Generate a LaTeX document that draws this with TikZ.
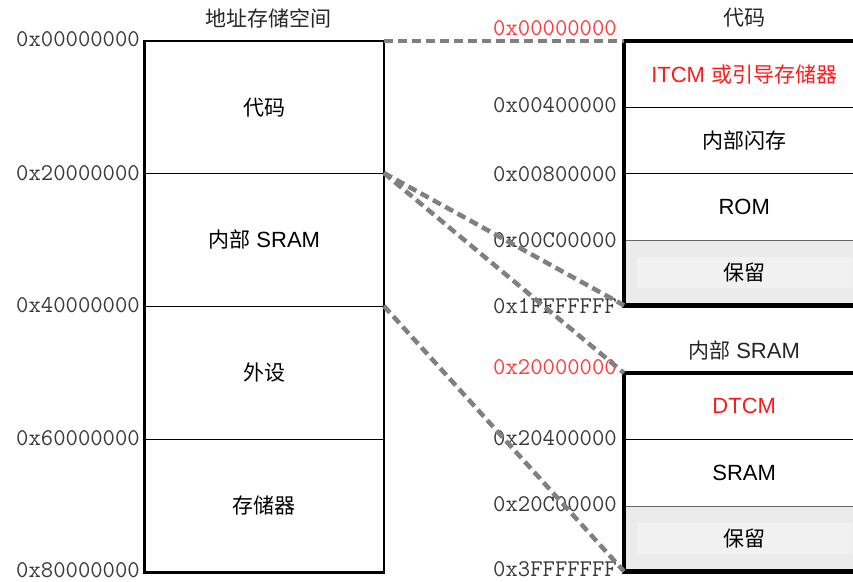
\documentclass[tikz,border=0pt]{standalone}
\usepackage{fontspec}
\setmainfont{Liberation Sans}
\newfontfamily\cjk{Noto Sans CJK SC}
\definecolor{addrgray}{HTML}{3A3A3A}
\definecolor{rsvfill}{HTML}{EBEBEB}
\definecolor{rsvinner}{HTML}{F1F1F1}
\definecolor{linkgray}{HTML}{808080}
\definecolor{hired}{HTML}{FF1A1A}
\definecolor{addrred}{HTML}{FF3B3B}
\begin{document}
\begin{tikzpicture}[x=1pt,y=-1pt,
  cellL/.style={anchor=north west, minimum width=239pt, inner sep=0pt, font=\fontsize{22}{22}\selectfont},
  cellR/.style={anchor=north west, minimum width=240pt, inner sep=0pt, font=\fontsize{22}{22}\selectfont},
  rsvcell/.style={cellR, fill=rsvfill},
  rsvlabel/.style={fill=rsvinner, minimum width=215pt, minimum height=31pt, inner sep=0pt, font=\fontsize{21}{21}\selectfont},
  addr/.style={anchor=east, inner sep=0pt, font=\fontsize{24}{24}\ttfamily, text=addrgray},
  addrhot/.style={addr, text=addrred},
  title/.style={inner sep=0pt, font=\fontsize{22}{22}\selectfont, text=black!85},
  sep/.style={line width=1.3pt, black},
  sepgray/.style={line width=1.3pt, black!60},
  frameL/.style={line width=2.5pt, black},
  frameR/.style={line width=4.5pt, black},
  link/.style={line width=4.5pt, linkgray, dash pattern=on 9pt off 5pt}
]
\useasboundingbox (0,0) rectangle (853,581);
\clip (0,0) rectangle (853,581);

% ---- address space overview ----
\node[title] (ttlL) at (268,18) {\cjk\fontsize{21}{21}\selectfont 地址存储空间};
\node[cellL, minimum height=132pt] (code)   at (144.5,41)  {\cjk\fontsize{21}{21}\selectfont 代码};
\node[cellL, minimum height=133pt] (isram)  at (144.5,173) {{\cjk\fontsize{21}{21}\selectfont 内部} SRAM};
\node[cellL, minimum height=133pt] (periph) at (144.5,306) {\cjk\fontsize{21}{21}\selectfont 外设};
\node[cellL, minimum height=133pt] (stor)   at (144.5,439) {\cjk\fontsize{21}{21}\selectfont 存储器};
\draw[sep] (code.south west) -- (code.south east);
\draw[sep] (isram.south west) -- (isram.south east);
\draw[sep] (periph.south west) -- (periph.south east);
\draw[frameL] (code.north west) rectangle (stor.south east);

\node[addr] (l0) at (140,39)  {0x00000000};
\node[addr] (l1) at (140,173) {0x20000000};
\node[addr] (l2) at (140,305) {0x40000000};
\node[addr] (l3) at (140,438) {0x60000000};
\node[addr] (l4) at (140,570) {0x80000000};

% ---- code region detail ----
\node[title] (ttlC) at (744,18) {\cjk\fontsize{21}{21}\selectfont 代码};
\node[cellR, minimum height=66pt] (itcm)  at (624,41)  {\color{hired}ITCM {\cjk\fontsize{21}{21}\selectfont 或引导存储器}};
\node[cellR, minimum height=66pt] (flash) at (624,107) {\cjk\fontsize{21}{21}\selectfont 内部闪存};
\node[cellR, minimum height=67pt] (rom)   at (624,173) {ROM};
\node[rsvcell, minimum height=65pt] (rsv1) at (624,240) {};
\node[rsvlabel] (rsv1t) at (rsv1.center) {\cjk 保留};
\draw[sep] (itcm.south west) -- (itcm.south east);
\draw[sep] (flash.south west) -- (flash.south east);
\draw[sepgray] (rom.south west) -- (rom.south east);
\draw[frameR] (itcm.north east) -- (itcm.north west) -- (rsv1.south west) -- (rsv1.south east);

\node[addrhot] (r0) at (617,28)  {0x00000000};
\node[addr]    (r1) at (617,105) {0x00400000};
\node[addr]    (r2) at (617,174) {0x00800000};
\node[addr]    (r3) at (617,240) {0x00C00000};
\node[addr]    (r4) at (617,306) {0x1FFFFFFF};

% ---- internal SRAM detail ----
\node[title] (ttlS) at (744,350) {{\cjk\fontsize{21}{21}\selectfont 内部} SRAM};
\node[cellR, minimum height=66pt] (dtcm) at (624,373) {\color{hired}DTCM};
\node[cellR, minimum height=67pt] (sram) at (624,439) {SRAM};
\node[rsvcell, minimum height=65pt] (rsv2) at (624,506) {};
\node[rsvlabel] (rsv2t) at (rsv2.center) {\cjk 保留};
\draw[sep] (dtcm.south west) -- (dtcm.south east);
\draw[sepgray] (sram.south west) -- (sram.south east);
\draw[frameR] (dtcm.north east) -- (dtcm.north west) -- (rsv2.south west) -- (rsv2.south east);

\node[addrhot] (s0) at (617,367) {0x20000000};
\node[addr]    (s1) at (617,438) {0x20400000};
\node[addr]    (s2) at (617,504) {0x20C00000};
\node[addr]    (s3) at (617,569) {0x3FFFFFFF};

% ---- dashed mapping links ----
\draw[link] (code.north east) -- (itcm.north west);
\draw[link] (isram.north east) -- (rsv1.south west);
\draw[link] (isram.north east) -- (dtcm.north west);
\draw[link] (periph.north east) -- (rsv2.south west);
\end{tikzpicture}
\end{document}
